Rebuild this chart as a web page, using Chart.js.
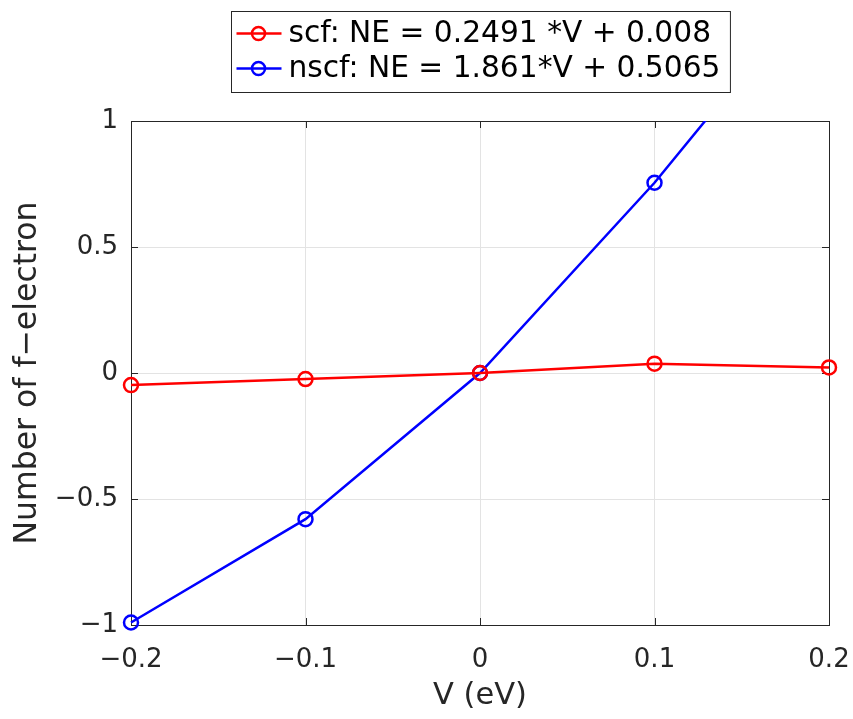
<!DOCTYPE html>
<html>
<head>
<meta charset="utf-8">
<script src="https://cdn.jsdelivr.net/npm/chart.js@4.4.1/dist/chart.umd.min.js"></script>
<style>
  html, body { margin: 0; padding: 0; background: #fff; }
  #wrap { width: 853px; height: 719px; }
</style>
</head>
<body>
<div id="wrap"><canvas id="chartNE"></canvas></div>
<script>
// datos
const voltage = [-0.2, -0.1, 0, 0.1, 0.2];
const scfNE = [-0.048, -0.024, 0, 0.037, 0.022];
const nscfNE = [-0.99, -0.58, 0, 0.755, 1.6];
const seriesLabels = ["scf: NE = 0.2491 *V + 0.008", "nscf: NE = 1.861*V + 0.5065"];
const xTicks = [-0.2, -0.1, 0, 0.1, 0.2];
const yTicks = [-1, -0.5, 0, 0.5, 1];

const FONT = "'DejaVu Sans', sans-serif";
const AXIS = "#262626";

function fmt(v) {
  const r = Math.round(v * 1000) / 1000;
  return r < 0 ? "\u2212" + String(-r) : String(r);
}

// marco tipo MATLAB (caja + marcas hacia dentro) y leyenda con recuadro
const matlabFrame = {
  id: "matlabFrame",
  beforeDatasetsDraw(chart) {
    const { ctx, chartArea: a, scales: { x, y } } = chart;
    ctx.save();
    ctx.strokeStyle = AXIS;
    ctx.lineWidth = 1;
    ctx.strokeRect(Math.round(a.left) + 0.5, Math.round(a.top) + 0.5,
      Math.round(a.right - a.left), Math.round(a.bottom - a.top));
    ctx.beginPath();
    xTicks.forEach(v => {
      const px = Math.round(x.getPixelForValue(v)) + 0.5;
      ctx.moveTo(px, a.bottom); ctx.lineTo(px, a.bottom - 7);
      ctx.moveTo(px, a.top); ctx.lineTo(px, a.top + 7);
    });
    yTicks.forEach(v => {
      const py = Math.round(y.getPixelForValue(v)) + 0.5;
      ctx.moveTo(a.left, py); ctx.lineTo(a.left + 7, py);
      ctx.moveTo(a.right, py); ctx.lineTo(a.right - 7, py);
    });
    ctx.stroke();
    ctx.restore();
  },
  afterDraw(chart) {
    const { ctx, chartArea: a } = chart;
    ctx.save();
    ctx.font = "29.7px " + FONT;
    const textW = Math.max(...chart.data.datasets.map(d => ctx.measureText(d.label).width));
    const w = 57 + textW + 10;
    const h = 81;
    const left = Math.round((a.left + a.right) / 2 - w / 2) + 0.5;
    const top = 11.5;
    ctx.fillStyle = "#fff";
    ctx.fillRect(left, top, w, h);
    ctx.strokeStyle = AXIS;
    ctx.lineWidth = 1;
    ctx.strokeRect(left, top, w, h);
    chart.data.datasets.forEach((d, i) => {
      const cy = top + 22 + i * 35;
      ctx.strokeStyle = d.borderColor;
      ctx.lineWidth = 2.5;
      ctx.beginPath();
      ctx.moveTo(left + 5, cy); ctx.lineTo(left + 50, cy);
      ctx.stroke();
      ctx.beginPath();
      ctx.arc(left + 27, cy, 6.5, 0, Math.PI * 2);
      ctx.stroke();
      ctx.fillStyle = "#000";
      ctx.textBaseline = "middle";
      ctx.fillText(d.label, left + 57, cy + 1);
    });
    ctx.restore();
  }
};

document.addEventListener("DOMContentLoaded", function () {
  const ctx = document.getElementById("chartNE").getContext("2d");
  const common = {
    backgroundColor: "transparent",
    borderWidth: 2.5,
    pointRadius: 7,
    pointBorderWidth: 2.5,
    pointBackgroundColor: "transparent",
    clip: { left: 12, right: 12, top: 0, bottom: 12 },
  };
  new Chart(ctx, {
    type: "line",
    data: {
      datasets: [{
        ...common,
        label: seriesLabels[0],
        data: voltage.map((v, i) => ({ x: v, y: scfNE[i] })),
        borderColor: "#ff0000",
      }, {
        ...common,
        label: seriesLabels[1],
        data: voltage.map((v, i) => ({ x: v, y: nscfNE[i] })),
        borderColor: "#0000ff",
      }],
    },
    options: {
      responsive: true,
      maintainAspectRatio: false,
      animation: false,
      layout: { padding: { left: 0, right: 24, top: 121, bottom: 0 } },
      plugins: {
        legend: { display: false },
        tooltip: { enabled: false },
      },
      scales: {
        x: {
          type: "linear",
          min: -0.2,
          max: 0.2,
          afterFit(scale) {
            scale.height = 94;
            scale.paddingLeft = 0;
            scale.paddingRight = 0;
          },
          afterBuildTicks(scale) { scale.ticks = xTicks.map(v => ({ value: v })); },
          grid: { color: "#e3e3e3", drawTicks: false },
          border: { display: false },
          ticks: {
            padding: 20,
            color: AXIS,
            font: { family: FONT, size: 26 },
            callback: v => fmt(v),
          },
          title: {
            display: true,
            text: "V (eV)",
            color: AXIS,
            font: { family: FONT, size: 30.5 },
            padding: { top: 0, bottom: 5 },
          },
        },
        y: {
          min: -1,
          max: 1,
          afterFit(scale) {
            scale.width = 131;
            scale.paddingTop = 0;
            scale.paddingBottom = 0;
          },
          afterBuildTicks(scale) { scale.ticks = yTicks.map(v => ({ value: v })); },
          grid: { color: "#e3e3e3", drawTicks: false },
          border: { display: false },
          ticks: {
            padding: 13,
            color: AXIS,
            font: { family: FONT, size: 26 },
            callback: v => fmt(v),
          },
          title: {
            display: true,
            text: "Number of f\u2212electron",
            color: AXIS,
            font: { family: FONT, size: 31.5 },
            padding: { top: 9, bottom: 0 },
          },
        },
      },
    },
    plugins: [matlabFrame],
  });
});
</script>
</body>
</html>
